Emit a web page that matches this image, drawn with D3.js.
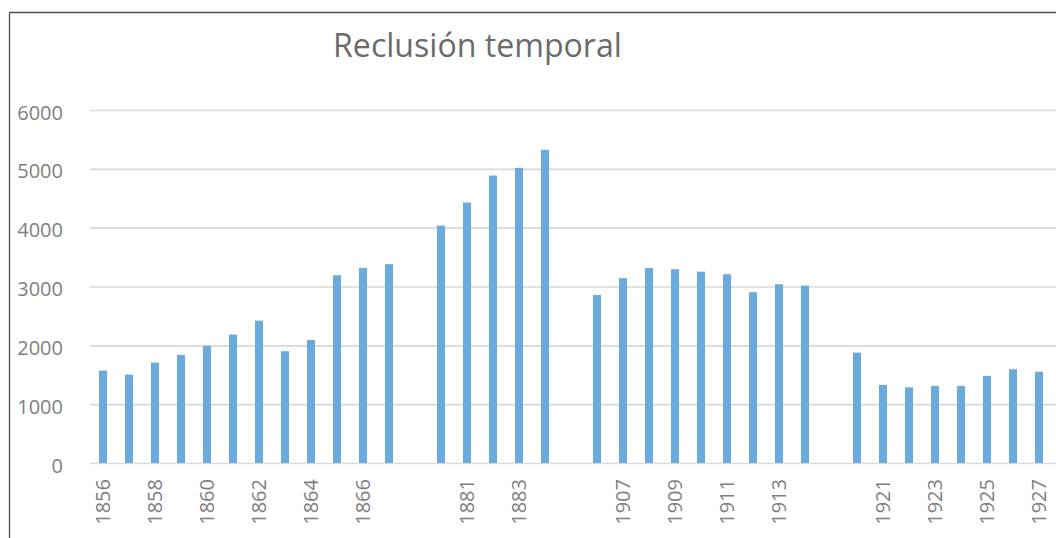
<!DOCTYPE html>
<html>
<head>
<meta charset="utf-8">
<script src="https://cdn.jsdelivr.net/npm/d3@7"></script>
<style>
html,body{margin:0;padding:0;background:#fff;}
svg{display:block;}
</style>
</head>
<body>
<svg id="chart" width="1056" height="538"></svg>
<script>
// Data ("" = empty spacer category between year groups)
const categories = ["1856","1857","1858","1859","1860","1861","1862","1863","1864","1865","1866","1867",
  "",
  "1880","1881","1882","1883","1884",
  "",
  "1906","1907","1908","1909","1910","1911","1912","1913","1914",
  "",
  "1920","1921","1922","1923","1924","1925","1926","1927"];
const values = [1570,1502,1706,1837,1990,2182,2420,1900,2092,3192,3316,3379,
  null,
  4035,4427,4886,5017,5323,
  null,
  2857,3141,3316,3294,3253,3209,2903,3039,3015,
  null,
  1876,1327,1287,1310,1310,1480,1593,1553];
const yTicks = [0,1000,2000,3000,4000,5000,6000];
const title = "Reclusión temporal";

(function(){
const svg = d3.select("#chart");
const W = 1056, H = 538;
const mLeft = 90, mRight = 1052, mTop = 110, mBottom = 463;

// frame (top and left edges visible; the rest is cropped)
svg.append("line").attr("x1",9.5).attr("x2",W).attr("y1",12.5).attr("y2",12.5)
  .attr("stroke","#4d4d4d").attr("stroke-width",1.3);
svg.append("line").attr("x1",9.5).attr("x2",9.5).attr("y1",12.5).attr("y2",H)
  .attr("stroke","#4d4d4d").attr("stroke-width",1.3);

const x = d3.scaleBand().domain(d3.range(categories.length)).range([mLeft,mRight]).paddingInner(0.69).paddingOuter(0.345);
const y = d3.scaleLinear().domain([0,6000]).range([mBottom,mTop]);

// gridlines
const yAxis = d3.axisLeft(y).tickValues(yTicks).tickSize(-(W-mLeft)).tickPadding(27).tickFormat(d3.format("d"));
const gy = svg.append("g").attr("transform",`translate(${mLeft},0)`).call(yAxis);
gy.select(".domain").remove();
gy.selectAll(".tick line").attr("stroke","#d9d9d9").attr("stroke-width",1.6);
gy.selectAll(".tick text").attr("fill","#7f7f7f").attr("font-family","'Open Sans', sans-serif")
  .attr("font-size",20).attr("dy","0.45em");

// bars
svg.append("g").selectAll("rect")
  .data(values.map((v,i)=>({v,i})).filter(d=>d.v!=null))
  .join("rect")
  .attr("x",d=>x(d.i)).attr("width",x.bandwidth())
  .attr("y",d=>y(d.v)).attr("height",d=>y(0)-y(d.v))
  .attr("fill","#6aaadd");

// x axis labels (every other category)
const xAxis = d3.axisBottom(x).tickValues(d3.range(0,categories.length,2)).tickSize(0).tickPadding(0)
  .tickFormat(i=>categories[i]);
const gx = svg.append("g").attr("transform",`translate(0,${mBottom})`).call(xAxis);
gx.select(".domain").remove();
gx.selectAll(".tick text")
  .attr("fill","#7f7f7f").attr("font-family","'Open Sans', sans-serif").attr("font-size",20)
  .attr("text-anchor","end").attr("transform","rotate(-90)")
  .attr("x",-16).attr("y",0).attr("dy","0.36em");

// title
const t = svg.append("text").attr("x",477.5).attr("y",57).attr("text-anchor","middle")
  .attr("fill","#6b6b6b").attr("font-family","'Open Sans', sans-serif").attr("font-size",30)
  .text(title);
const len = t.node().getComputedTextLength();
t.attr("font-size",30*289/len);
})();
</script>
</body>
</html>
